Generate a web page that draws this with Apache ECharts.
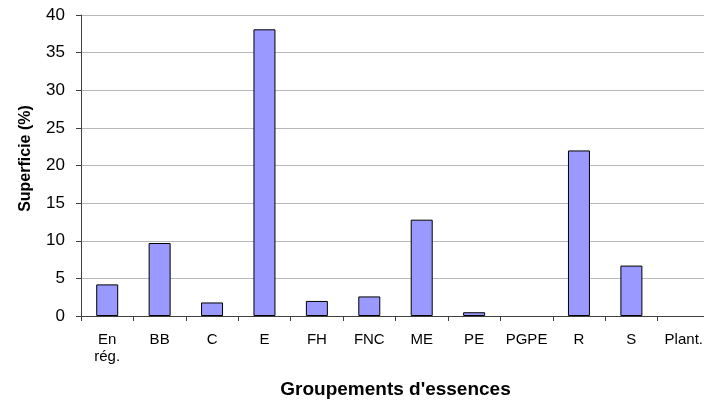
<!DOCTYPE html>
<html>
<head>
<meta charset="utf-8">
<script src="https://cdn.jsdelivr.net/npm/echarts@6/dist/echarts.min.js"></script>
<style>
  html, body { margin: 0; padding: 0; background: #fff; }
  #chart { width: 704px; height: 400px; }
</style>
</head>
<body>
<div id="chart"></div>
<script>
// groupements d'essences
const categories = ["En\nrég.", "BB", "C", "E", "FH", "FNC", "ME", "PE", "PGPE", "R", "S", "Plant."];
// superficie (%)
const superficie = [4.2, 9.7, 1.8, 38.1, 2.0, 2.6, 12.8, 0.5, 0, 22.0, 6.7, 0];
const yTicks = [0, 5, 10, 15, 20, 25, 30, 35, 40];

const font = "Arial, 'Liberation Sans', sans-serif";
const chart = echarts.init(document.getElementById("chart"), null, { renderer: "canvas" });

// zero-height bars should not show their outline
const barData = superficie.map((v) =>
  v === 0 ? { value: v, itemStyle: { borderWidth: 0 } } : v
);

let option = {
  animation: false,
  grid: {
    left: 81,
    top: 15,
    width: 629,
    height: 301,
    containLabel: false,
    outerBoundsMode: "none",
  },
  xAxis: {
    type: "category",
    data: categories,
    boundaryGap: true,
    name: "Groupements d'essences",
    nameLocation: "middle",
    nameGap: 64,
    nameTextStyle: {
      color: "#000",
      fontFamily: font,
      fontSize: 19,
      fontWeight: "bold",
    },
    axisLine: {
      lineStyle: { color: "#404040", width: 1 },
    },
    axisTick: {
      show: true,
      alignWithLabel: false,
      length: 5,
      lineStyle: { color: "#404040" },
    },
    axisLabel: {
      color: "#000",
      fontFamily: font,
      fontSize: 15,
      margin: 15,
      lineHeight: 17,
      interval: 0,
    },
    splitLine: { show: false },
  },
  yAxis: {
    type: "value",
    min: yTicks[0],
    max: yTicks[yTicks.length - 1],
    interval: 5,
    name: "Superficie (%)",
    nameLocation: "middle",
    nameGap: 47,
    nameTextStyle: {
      color: "#000",
      fontFamily: font,
      fontSize: 16,
      fontWeight: "bold",
      padding: [0, 0, 0, 14],
    },
    axisLine: {
      show: true,
      lineStyle: { color: "#404040", width: 1 },
    },
    axisTick: {
      show: true,
      length: 5,
      lineStyle: { color: "#404040" },
    },
    axisLabel: {
      color: "#000",
      fontFamily: font,
      fontSize: 17,
      margin: 16,
    },
    splitLine: {
      lineStyle: { color: "#b8b8b8", width: 1 },
    },
  },
  series: [
    {
      type: "bar",
      data: barData,
      barWidth: 22,
      itemStyle: {
        color: "#9999ff",
        borderColor: "#000",
        borderWidth: 1,
      },
    },
  ],
};

chart.setOption(option);
</script>
</body>
</html>
